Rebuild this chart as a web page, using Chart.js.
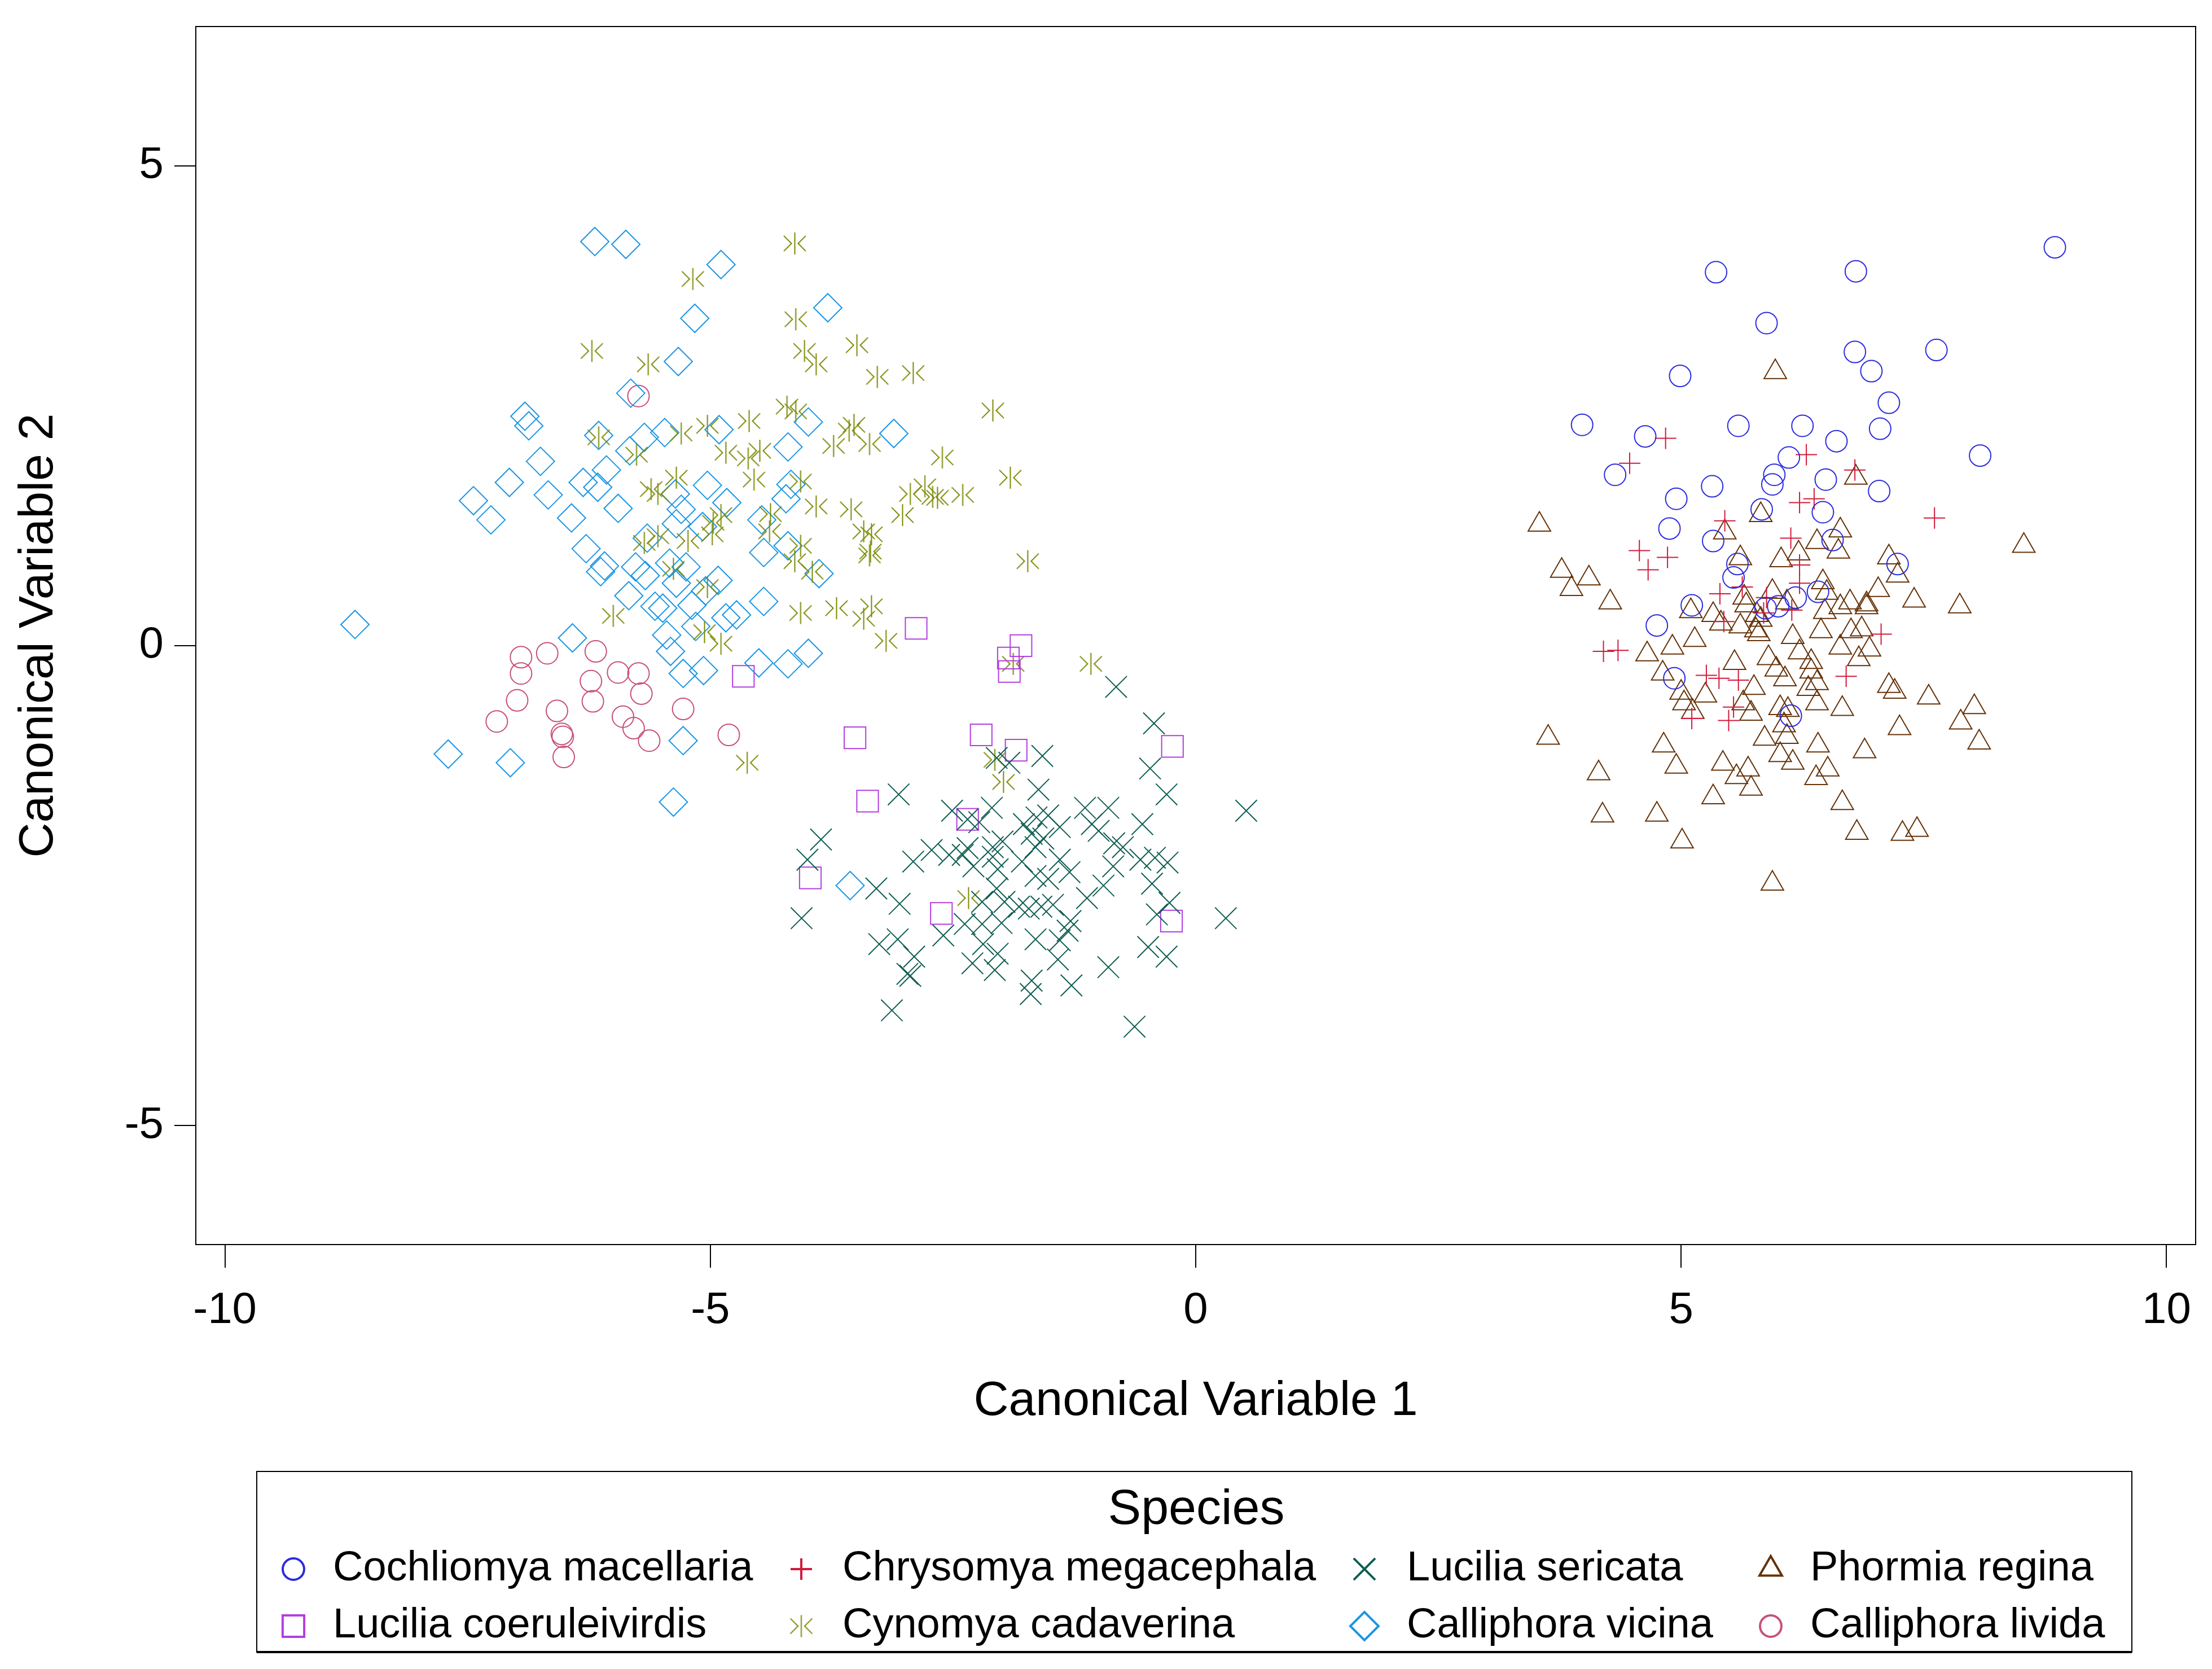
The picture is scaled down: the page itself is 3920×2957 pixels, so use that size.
<!DOCTYPE html>
<html lang="en">
<head>
<meta charset="UTF-8">
<title>Canonical variables by species</title>
<script src="https://cdn.jsdelivr.net/npm/chart.js@4"></script>
<style>
  html, body { margin: 0; padding: 0; background: #fff; }
  #wrap { width: 3920px; height: 2957px; }
</style>
</head>
<body>
<div id="wrap"><canvas id="cvChart" width="3920" height="2957"></canvas></div>
<script>
// legend order (two rows of four)
const species = [
  'Cochliomya macellaria', 'Chrysomya megacephala', 'Lucilia sericata', 'Phormia regina',
  'Lucilia coeruleivirdis', 'Cynomya cadaverina', 'Calliphora vicina', 'Calliphora livida'
];

// [canonical variable 1, canonical variable 2]
const cochliomya = [
  [5.36,3.89],[5.88,3.36],[6.80,3.90],[6.79,3.06],[4.99,2.81],[3.98,2.30],[4.63,2.18],[5.59,2.29],
  [6.25,2.29],[6.60,2.13],[6.11,1.96],[5.96,1.78],[5.94,1.68],[6.49,1.73],[4.32,1.78],[5.32,1.66],
  [4.95,1.53],[5.83,1.42],[6.46,1.39],[4.88,1.22],[5.33,1.09],[6.56,1.10],[5.58,0.85],[8.85,4.15],
  [7.63,3.08],[6.96,2.86],[7.14,2.53],[7.05,2.26],[8.08,1.98],[7.04,1.61],[7.23,0.85],[5.54,0.71],
  [5.11,0.42],[4.75,0.21],[4.93,-0.34],[5.87,0.39],[6.18,0.50],[6.41,0.56],[6.00,0.41],[6.13,-0.73]
];
const chrysomya = [
  [4.84,2.16],[4.47,1.90],[6.29,1.99],[6.79,1.83],[6.22,1.49],[6.37,1.53],[5.45,1.30],[6.13,1.12],
  [4.57,0.99],[4.86,0.92],[6.22,0.84],[7.61,1.33],[4.66,0.79],[5.40,0.54],[5.63,0.61],[5.88,0.50],
  [5.85,0.34],[5.44,0.25],[4.20,-0.06],[4.35,-0.05],[5.26,-0.31],[5.39,-0.34],[5.59,-0.36],[5.54,-0.64],
  [5.49,-0.78],[5.11,-0.76],[6.22,0.65],[6.14,0.37],[7.06,0.12],[6.70,-0.32]
];
const sericata = [
  [-0.82,-0.43],[-0.43,-0.81],[-0.47,-1.28],[-0.30,-1.55],[-1.58,-1.15],[-1.62,-1.50],[-1.92,-1.22],[-2.05,-1.17],
  [-3.06,-1.55],[-2.51,-1.72],[-2.10,-1.69],[-2.35,-1.81],[-2.23,-1.84],[-3.86,-2.02],[-4.00,-2.23],[-2.91,-2.25],
  [-2.72,-2.13],[-2.54,-2.18],[-2.40,-2.18],[-2.35,-2.11],[-2.29,-2.30],[-2.09,-2.10],[-1.99,-2.04],[-2.09,-2.20],
  [-1.77,-1.86],[-1.64,-1.79],[-1.52,-1.77],[-1.40,-1.89],[-1.69,-1.96],[-1.57,-2.01],[-1.65,-2.10],[-1.14,-1.69],
  [-0.90,-1.69],[-1.07,-1.86],[-1.00,-1.93],[-0.84,-2.06],[-0.55,-1.86],[-0.75,-2.10],[-0.57,-2.23],[-0.42,-2.21],
  [-0.29,-2.26],[-0.85,-2.30],[-1.79,-2.25],[-1.40,-2.23],[-1.30,-2.36],[-1.65,-2.40],[-1.52,-2.43],[-2.04,-2.33],
  [-2.05,-2.53],[-0.45,-2.48],[-0.95,-2.50],[-3.29,-2.53],[-3.05,-2.69],[-4.06,-2.84],[-2.20,-2.67],[-1.97,-2.67],
  [-1.82,-2.72],[-1.72,-2.74],[-1.59,-2.72],[-1.47,-2.70],[-1.12,-2.63],[-0.27,-2.68],[-0.40,-2.80],[0.31,-2.84],
  [-2.38,-2.90],[-2.20,-2.90],[-2.00,-2.89],[-1.29,-2.87],[-2.60,-3.02],[-3.07,-3.06],[-3.26,-3.11],[-1.65,-3.06],
  [-1.40,-3.07],[-1.32,-2.97],[-0.49,-3.14],[-0.30,-3.24],[-2.90,-3.24],[-2.94,-3.44],[-2.97,-3.42],[-2.19,-3.11],
  [-2.04,-3.21],[-2.30,-3.31],[-2.07,-3.38],[-1.42,-3.27],[-0.90,-3.35],[-1.69,-3.49],[-1.70,-3.63],[-1.28,-3.54],
  [-3.13,-3.80],[-0.63,-3.97],[0.52,-1.72]
];
const phormia = [
  [5.97,2.85],[3.54,1.26],[5.82,1.36],[5.45,1.18],[6.64,1.20],[6.40,1.08],[6.21,0.96],[6.62,0.98],
  [6.80,1.75],[5.61,0.91],[6.03,0.89],[8.53,1.04],[7.14,0.92],[3.77,0.78],[4.05,0.70],[3.87,0.59],
  [4.27,0.45],[5.10,0.36],[5.33,0.32],[5.41,0.23],[5.65,0.50],[5.67,0.42],[5.61,0.20],[5.94,0.56],
  [5.78,0.32],[5.82,0.27],[5.80,0.12],[5.77,0.16],[4.91,-0.02],[5.14,0.06],[4.65,-0.09],[4.81,-0.29],
  [5.55,-0.18],[5.90,-0.13],[5.75,-0.44],[5.00,-0.49],[5.03,-0.60],[5.12,-0.69],[5.25,-0.52],[5.64,-0.60],
  [5.72,-0.71],[3.63,-0.96],[4.82,-1.04],[4.95,-1.26],[5.43,-1.23],[5.57,-1.37],[5.69,-1.29],[5.72,-1.49],
  [5.33,-1.58],[5.86,-0.97],[4.15,-1.33],[4.19,-1.77],[4.75,-1.76],[5.01,-2.04],[5.94,-2.48],[7.23,0.73],
  [7.03,0.58],[7.40,0.47],[7.87,0.41],[6.46,0.66],[6.50,0.55],[6.09,0.45],[6.48,0.35],[6.64,0.40],
  [6.74,0.45],[6.91,0.43],[6.91,0.40],[6.15,0.09],[6.44,0.15],[6.75,0.15],[6.86,0.17],[6.22,-0.07],
  [6.64,-0.02],[6.94,-0.04],[6.83,-0.14],[6.34,-0.17],[6.34,-0.27],[6.40,-0.39],[6.31,-0.45],[6.07,-0.35],
  [5.98,-0.25],[6.40,-0.60],[7.14,-0.42],[7.20,-0.48],[7.55,-0.54],[8.02,-0.64],[7.88,-0.80],[8.07,-1.01],
  [6.66,-0.66],[7.25,-0.86],[6.02,-0.65],[6.10,-0.67],[6.06,-0.83],[6.09,-0.95],[6.02,-1.14],[6.15,-1.22],
  [6.41,-1.04],[6.89,-1.10],[6.51,-1.29],[6.39,-1.38],[6.66,-1.64],[6.81,-1.95],[7.28,-1.96],[7.43,-1.92]
];
const coeruleivirdis = [
  [-2.88,0.18],[-1.80,0.00],[-1.93,-0.13],[-1.92,-0.27],[-4.66,-0.32],[-3.51,-0.96],[-2.21,-0.93],
  [-1.85,-1.09],[-0.24,-1.05],[-3.38,-1.62],[-2.35,-1.81],[-3.97,-2.42],[-2.62,-2.79],[-0.25,-2.87]
];
const cynomya = [
  [-5.18,3.82],[-6.22,3.07],[-5.64,2.93],[-5.30,2.21],[-5.03,2.29],[-4.60,2.34],[-6.15,2.17],[-5.76,1.99],
  [-4.84,2.01],[-4.61,1.95],[-4.49,2.03],[-4.55,1.73],[-5.35,1.75],[-5.61,1.63],[-5.54,1.58],[-4.89,1.36],
  [-4.97,1.28],[-5.54,1.14],[-5.68,1.07],[-5.23,1.09],[-4.98,1.16],[-5.38,0.80],[-5.03,0.61],[-6.00,0.31],
  [-5.06,0.14],[-4.89,0.02],[-4.13,4.19],[-4.12,3.40],[-4.03,3.07],[-3.91,2.93],[-3.49,3.13],[-3.28,2.80],
  [-2.91,2.84],[-4.21,2.49],[-4.12,2.44],[-2.09,2.45],[-3.52,2.30],[-3.57,2.24],[-3.73,2.08],[-3.36,2.10],
  [-2.61,1.96],[-1.91,1.75],[-4.07,1.71],[-2.94,1.58],[-2.79,1.66],[-2.71,1.55],[-2.66,1.54],[-2.40,1.57],
  [-3.02,1.36],[-3.91,1.45],[-3.55,1.42],[-4.38,1.37],[-4.39,1.19],[-3.42,1.19],[-3.34,1.16],[-3.35,0.98],
  [-3.36,0.94],[-4.07,1.04],[-4.13,0.88],[-3.95,0.77],[-1.73,0.88],[-4.07,0.34],[-3.70,0.39],[-3.34,0.41],
  [-3.42,0.28],[-3.19,0.05],[-1.08,-0.19],[-4.62,-1.22],[-1.88,-0.19],[-2.07,-1.19],[-1.98,-1.42],[-2.34,-2.63]
];
const vicina = [
  [-6.19,4.21],[-5.87,4.18],[-4.89,3.97],[-5.16,3.41],[-5.33,2.96],[-5.82,2.63],[-6.91,2.39],[-6.87,2.29],
  [-6.15,2.19],[-5.68,2.17],[-5.47,2.22],[-4.91,2.25],[-5.83,2.03],[-6.75,1.92],[-7.07,1.70],[-7.44,1.51],
  [-7.26,1.31],[-6.67,1.57],[-6.31,1.70],[-6.07,1.83],[-6.16,1.65],[-5.95,1.43],[-6.43,1.33],[-5.36,1.58],
  [-5.30,1.42],[-5.35,1.27],[-5.03,1.67],[-4.83,1.49],[-5.08,1.24],[-4.47,1.31],[-5.65,1.12],[-6.28,1.01],
  [-6.09,0.83],[-6.13,0.77],[-5.77,0.82],[-5.67,0.73],[-5.42,0.86],[-5.25,0.82],[-5.35,0.65],[-4.92,0.68],
  [-5.05,0.57],[-5.84,0.52],[-5.57,0.41],[-5.49,0.39],[-5.19,0.42],[-4.84,0.29],[-4.73,0.32],[-5.15,0.20],
  [-5.45,0.11],[-5.41,-0.06],[-4.45,0.46],[-4.45,0.97],[-6.42,0.08],[-8.66,0.22],[-5.28,-0.29],[-5.07,-0.26],
  [-4.50,-0.18],[-3.79,3.52],[-3.99,2.33],[-3.11,2.21],[-4.20,2.07],[-4.17,1.68],[-4.22,1.53],[-4.20,1.04],
  [-3.88,0.75],[-3.99,-0.08],[-4.20,-0.19],[-7.70,-1.13],[-7.06,-1.22],[-5.38,-1.63],[-5.28,-0.99],[-3.56,-2.50]
];
const livida = [
  [-6.95,-0.12],[-6.95,-0.29],[-6.68,-0.08],[-6.18,-0.06],[-5.95,-0.28],[-5.74,-0.29],[-6.23,-0.37],
  [-6.21,-0.58],[-5.71,-0.50],[-6.99,-0.57],[-6.58,-0.68],[-7.20,-0.79],[-5.90,-0.74],[-5.79,-0.86],
  [-5.63,-0.99],[-6.53,-0.92],[-6.52,-0.95],[-6.51,-1.16],[-5.28,-0.66],[-4.81,-0.93],[-5.74,2.60]
];

const xTicks = [-10, -5, 0, 5, 10];
const yTicks = [-5, 0, 5];

const FONT = "'Liberation Sans', Arial, sans-serif";
const LW = 2;

// the ">|<" mark used for Cynomya
function makeStarMark(color, r) {
  const c = document.createElement('canvas');
  const s = Math.ceil(2 * r + 4);
  c.width = s; c.height = s;
  const g = c.getContext('2d');
  const m = s / 2;
  g.strokeStyle = color;
  g.lineWidth = LW;
  g.beginPath();
  g.moveTo(m, m - r); g.lineTo(m, m + r);
  g.moveTo(m - r, m - 0.7 * r); g.lineTo(m - 0.3 * r, m); g.lineTo(m - r, m + 0.7 * r);
  g.moveTo(m + r, m - 0.7 * r); g.lineTo(m + 0.3 * r, m); g.lineTo(m + r, m + 0.7 * r);
  g.stroke();
  return c;
}

const series = [
  { data: cochliomya,     style: 'circle',   color: '#2b2be0', r: 19 },
  { data: chrysomya,      style: 'cross',    color: '#d11a3c', r: 19 },
  { data: sericata,       style: 'crossRot', color: '#0e5e52', r: 27 },
  { data: phormia,        style: 'triangle', color: '#653208', r: 23 },
  { data: coeruleivirdis, style: 'rect',     color: '#b23ee0', r: 27 },
  { data: cynomya,        style: makeStarMark('#7a8800', 19.5), color: '#7a8800', r: 20 },
  { data: vicina,         style: 'rectRot',  color: '#1996e6', r: 25 },
  { data: livida,         style: 'circle',   color: '#c8507a', r: 19 }
];

const datasets = series.map((s, i) => ({
  label: species[i],
  data: s.data.map(p => ({ x: p[0], y: p[1] })),
  pointStyle: s.style,
  pointRadius: s.r,
  pointHoverRadius: s.r,
  borderColor: s.color,
  backgroundColor: 'rgba(0,0,0,0)',
  pointBorderWidth: LW,
  showLine: false
}));

// outer frame round the plot area
const frame = {
  id: 'frame',
  afterDatasetsDraw(chart) {
    const { ctx, chartArea: a } = chart;
    ctx.save();
    ctx.strokeStyle = '#000';
    ctx.lineWidth = 2;
    ctx.strokeRect(a.left, a.top, a.right - a.left, a.bottom - a.top);
    ctx.restore();
  }
};

// boxed legend with title, 4 columns x 2 rows
const legendBox = {
  id: 'legendBox',
  afterDraw(chart) {
    const ctx = chart.ctx;
    const colMark = [520, 1420, 2418, 3138];
    const colText = [590, 1493, 2493, 3208];
    const rowY = [2780, 2881];
    ctx.save();
    ctx.strokeStyle = '#000';
    ctx.lineWidth = 2;
    ctx.strokeRect(455, 2607, 3323, 320);
    ctx.lineWidth = 4;
    ctx.beginPath();
    ctx.moveTo(455, 2927); ctx.lineTo(3778, 2927);
    ctx.stroke();

    ctx.fillStyle = '#000';
    ctx.textAlign = 'center';
    ctx.textBaseline = 'middle';
    ctx.font = '88px ' + FONT;
    ctx.fillText('Species', 2120, 2676);

    ctx.font = '74px ' + FONT;
    ctx.textAlign = 'left';
    series.forEach((s, i) => {
      const col = i % 4, row = Math.floor(i / 4);
      const y = rowY[row];
      ctx.save();
      ctx.strokeStyle = s.color;
      ctx.fillStyle = 'rgba(0,0,0,0)';
      Chart.helpers.drawPoint(ctx, {
        pointStyle: s.style, radius: s.r, borderWidth: LW, rotation: 0
      }, colMark[col], y);
      ctx.restore();
      ctx.fillStyle = '#000';
      ctx.fillText(species[i], colText[col], y);
    });
    ctx.restore();
  }
};

new Chart(document.getElementById('cvChart'), {
  type: 'scatter',
  data: { datasets },
  options: {
    responsive: false,
    maintainAspectRatio: false,
    devicePixelRatio: 1,
    animation: false,
    events: [],
    layout: { padding: { left: 0, top: 47, right: 26, bottom: 422 } },
    plugins: {
      legend: { display: false },
      tooltip: { enabled: false }
    },
    scales: {
      x: {
        type: 'linear',
        min: -10.3,
        max: 10.3,
        afterBuildTicks: s => { s.ticks = xTicks.map(v => ({ value: v })); },
        afterFit: s => { s.height = 330; s.paddingLeft = 0; s.paddingRight = 0; },
        border: { display: false },
        grid: {
          display: true, drawOnChartArea: false, drawTicks: true,
          tickLength: 41, tickColor: '#000', tickWidth: 2, lineWidth: 2
        },
        ticks: {
          color: '#000', font: { family: FONT, size: 78 },
          padding: 30, maxRotation: 0, autoSkip: false
        },
        title: {
          display: true, text: 'Canonical Variable 1', color: '#000',
          font: { family: FONT, size: 86 }, padding: { top: 0, bottom: 0 }
        }
      },
      y: {
        type: 'linear',
        min: -6.24,
        max: 6.45,
        afterBuildTicks: s => { s.ticks = yTicks.map(v => ({ value: v })); },
        afterFit: s => { s.width = 347; s.paddingTop = 0; s.paddingBottom = 0; },
        border: { display: false },
        grid: {
          display: true, drawOnChartArea: false, drawTicks: true,
          tickLength: 38, tickColor: '#000', tickWidth: 2, lineWidth: 2
        },
        ticks: {
          color: '#000', font: { family: FONT, size: 78 },
          padding: 19, autoSkip: false
        },
        title: {
          display: true, text: 'Canonical Variable 2', color: '#000',
          font: { family: FONT, size: 86 }, padding: { top: 18, bottom: 0 }
        }
      }
    }
  },
  plugins: [frame, legendBox]
});
</script>
</body>
</html>
